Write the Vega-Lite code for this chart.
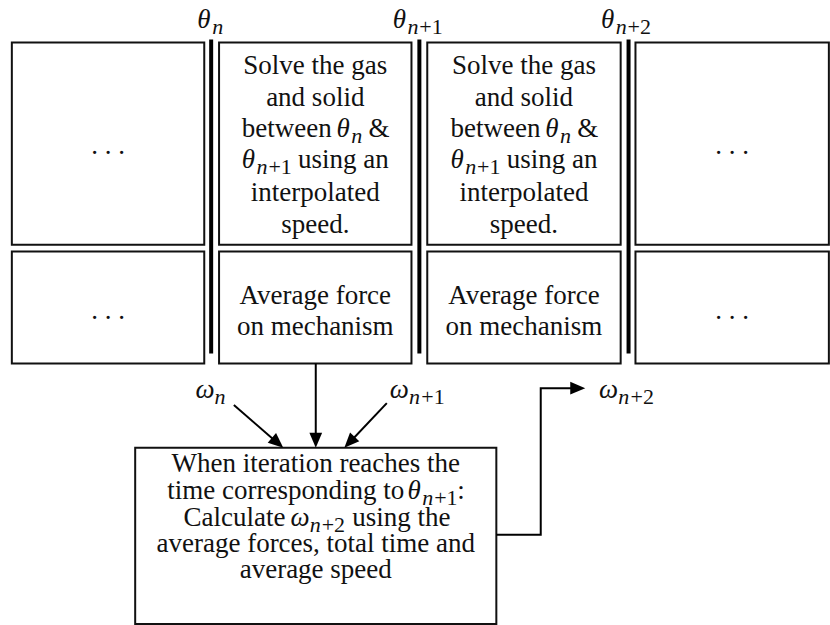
{
  "$schema": "https://vega.github.io/schema/vega-lite/v6.json",
  "width": 830,
  "height": 625,
  "autosize": {"type": "fit", "contains": "padding"},
  "padding": 0,
  "background": "white",
  "config": {"view": {"stroke": null}, "axis": {"disable": true}},
  "datasets": {
    "boxes": [
      {"x": 12, "x2": 207, "y": 43, "y2": 247},
      {"x": 222, "x2": 417, "y": 43, "y2": 247},
      {"x": 433, "x2": 629, "y": 43, "y2": 247},
      {"x": 644, "x2": 840, "y": 43, "y2": 247},
      {"x": 12, "x2": 207, "y": 254, "y2": 367},
      {"x": 222, "x2": 417, "y": 254, "y2": 367},
      {"x": 433, "x2": 629, "y": 254, "y2": 367},
      {"x": 644, "x2": 840, "y": 254, "y2": 367},
      {"x": 137, "x2": 503, "y": 452, "y2": 630}
    ],
    "seps": [
      {"x": 214, "y": 40, "y2": 357},
      {"x": 425, "y": 40, "y2": 357},
      {"x": 637, "y": 40, "y2": 357}
    ],
    "paths": [
      {"id": "a", "o": 1, "x": 320, "y": 367},
      {"id": "a", "o": 2, "x": 320, "y": 445},
      {"id": "b", "o": 1, "x": 237, "y": 409},
      {"id": "b", "o": 2, "x": 281, "y": 447},
      {"id": "c", "o": 1, "x": 392, "y": 407},
      {"id": "c", "o": 2, "x": 354, "y": 447},
      {"id": "d", "o": 1, "x": 503, "y": 540},
      {"id": "d", "o": 2, "x": 548, "y": 540},
      {"id": "d", "o": 3, "x": 548, "y": 392},
      {"id": "d", "o": 4, "x": 586, "y": 392}
    ],
    "heads": [
      {"x": 320, "y": 444.5, "a": 180},
      {"x": 281.3, "y": 447.1, "a": 130.7},
      {"x": 354.2, "y": 446.6, "a": 223.7},
      {"x": 585.5, "y": 392, "a": 90}
    ],
    "texts": [
      {"x": 319.5, "y": 75, "t": "Solve the gas"},
      {"x": 319.5, "y": 107, "t": "and solid"},
      {"x": 319.5, "y": 203, "t": "interpolated"},
      {"x": 319.5, "y": 235, "t": "speed."},
      {"x": 531, "y": 75, "t": "Solve the gas"},
      {"x": 531, "y": 107, "t": "and solid"},
      {"x": 531, "y": 203, "t": "interpolated"},
      {"x": 531, "y": 235, "t": "speed."},
      {"x": 319.5, "y": 307, "t": "Average force"},
      {"x": 319.5, "y": 338, "t": "on mechanism"},
      {"x": 531, "y": 307, "t": "Average force"},
      {"x": 531, "y": 338, "t": "on mechanism"},
      {"x": 109.5, "y": 155, "t": ". . ."},
      {"x": 742, "y": 155, "t": ". . ."},
      {"x": 109.5, "y": 322, "t": ". . ."},
      {"x": 742, "y": 322, "t": ". . ."},
      {"x": 320, "y": 477, "t": "When iteration reaches the"},
      {"x": 320, "y": 557, "t": "average forces, total time and"},
      {"x": 320, "y": 584, "t": "average speed"}
    ],
    "pieces": [
      {"x": 245, "y": 138, "t": "between", "s": "r"},
      {"x": 341, "y": 138, "t": "θ", "s": "i"},
      {"x": 356, "y": 144, "t": "n", "s": "si"},
      {"x": 373.5, "y": 138, "t": "&", "s": "r"},
      {"x": 456.5, "y": 138, "t": "between", "s": "r"},
      {"x": 552.5, "y": 138, "t": "θ", "s": "i"},
      {"x": 567.5, "y": 144, "t": "n", "s": "si"},
      {"x": 585, "y": 138, "t": "&", "s": "r"},
      {"x": 245, "y": 170, "t": "θ", "s": "i"},
      {"x": 260, "y": 176, "t": "n", "s": "si"},
      {"x": 272, "y": 176, "t": "+1", "s": "su"},
      {"x": 302, "y": 170, "t": "using an", "s": "r"},
      {"x": 456.5, "y": 170, "t": "θ", "s": "i"},
      {"x": 471.5, "y": 176, "t": "n", "s": "si"},
      {"x": 483.5, "y": 176, "t": "+1", "s": "su"},
      {"x": 513.5, "y": 170, "t": "using an", "s": "r"},
      {"x": 169.5, "y": 504, "t": "time corresponding to", "s": "r"},
      {"x": 413, "y": 504, "t": "θ", "s": "i"},
      {"x": 428, "y": 510, "t": "n", "s": "si"},
      {"x": 440, "y": 510, "t": "+1", "s": "su"},
      {"x": 463.5, "y": 504, "t": ":", "s": "r"},
      {"x": 186, "y": 531, "t": "Calculate", "s": "r"},
      {"x": 294.5, "y": 531, "t": "ω", "s": "i"},
      {"x": 314, "y": 537, "t": "n", "s": "si"},
      {"x": 326, "y": 537, "t": "+2", "s": "su"},
      {"x": 357, "y": 531, "t": "using the", "s": "r"},
      {"x": 200, "y": 28, "t": "θ", "s": "i"},
      {"x": 215, "y": 34, "t": "n", "s": "si"},
      {"x": 398, "y": 28, "t": "θ", "s": "i"},
      {"x": 413, "y": 34, "t": "n", "s": "si"},
      {"x": 425, "y": 34, "t": "+1", "s": "su"},
      {"x": 609, "y": 28, "t": "θ", "s": "i"},
      {"x": 624, "y": 34, "t": "n", "s": "si"},
      {"x": 636, "y": 34, "t": "+2", "s": "su"},
      {"x": 198, "y": 402, "t": "ω", "s": "i"},
      {"x": 217.5, "y": 408, "t": "n", "s": "si"},
      {"x": 395, "y": 402, "t": "ω", "s": "i"},
      {"x": 414.5, "y": 408, "t": "n", "s": "si"},
      {"x": 427, "y": 408, "t": "+1", "s": "su"},
      {"x": 607, "y": 402, "t": "ω", "s": "i"},
      {"x": 626.5, "y": 408, "t": "n", "s": "si"},
      {"x": 639, "y": 408, "t": "+2", "s": "su"}
    ]
  },
  "layer": [
    {
      "data": {"name": "boxes"},
      "mark": {"type": "rect", "fill": "white", "stroke": "#111111", "strokeWidth": 2},
      "encoding": {
        "x": {"field": "x", "type": "quantitative", "scale": {"domain": [0, 830], "nice": false, "zero": false}},
        "x2": {"field": "x2"},
        "y": {"field": "y", "type": "quantitative", "scale": {"domain": [0, 625], "reverse": true, "nice": false, "zero": false}},
        "y2": {"field": "y2"}
      }
    },
    {
      "data": {"name": "seps"},
      "mark": {"type": "rule", "color": "#000000", "strokeWidth": 4},
      "encoding": {
        "x": {"field": "x", "type": "quantitative"},
        "y": {"field": "y", "type": "quantitative"},
        "y2": {"field": "y2"}
      }
    },
    {
      "data": {"name": "paths"},
      "mark": {"type": "line", "color": "#000000", "strokeWidth": 2, "strokeJoin": "miter"},
      "encoding": {
        "x": {"field": "x", "type": "quantitative"},
        "y": {"field": "y", "type": "quantitative"},
        "detail": {"field": "id"},
        "order": {"field": "o", "type": "quantitative"}
      }
    },
    {
      "data": {"name": "heads"},
      "mark": {"type": "point", "shape": "M0,-1L0.85,1L-0.85,1Z", "filled": true, "size": 225, "color": "#000000", "opacity": 1, "strokeWidth": 0},
      "encoding": {
        "x": {"field": "x", "type": "quantitative"},
        "y": {"field": "y", "type": "quantitative"},
        "angle": {"field": "a", "type": "quantitative", "scale": null}
      }
    },
    {
      "data": {"name": "texts"},
      "mark": {"type": "text", "align": "center", "baseline": "alphabetic", "font": "Liberation Serif", "fontSize": 27, "color": "#111111"},
      "encoding": {
        "x": {"field": "x", "type": "quantitative"},
        "y": {"field": "y", "type": "quantitative"},
        "text": {"field": "t"}
      }
    },
    {
      "data": {"name": "pieces"},
      "transform": [{"filter": "datum.s == 'r'"}],
      "mark": {"type": "text", "align": "left", "baseline": "alphabetic", "font": "Liberation Serif", "fontSize": 27, "color": "#111111"},
      "encoding": {
        "x": {"field": "x", "type": "quantitative"},
        "y": {"field": "y", "type": "quantitative"},
        "text": {"field": "t"}
      }
    },
    {
      "data": {"name": "pieces"},
      "transform": [{"filter": "datum.s == 'i'"}],
      "mark": {"type": "text", "align": "left", "baseline": "alphabetic", "font": "Liberation Serif", "fontStyle": "italic", "fontSize": 27, "color": "#111111"},
      "encoding": {
        "x": {"field": "x", "type": "quantitative"},
        "y": {"field": "y", "type": "quantitative"},
        "text": {"field": "t"}
      }
    },
    {
      "data": {"name": "pieces"},
      "transform": [{"filter": "datum.s == 'si'"}],
      "mark": {"type": "text", "align": "left", "baseline": "alphabetic", "font": "Liberation Serif", "fontStyle": "italic", "fontSize": 22, "color": "#111111"},
      "encoding": {
        "x": {"field": "x", "type": "quantitative"},
        "y": {"field": "y", "type": "quantitative"},
        "text": {"field": "t"}
      }
    },
    {
      "data": {"name": "pieces"},
      "transform": [{"filter": "datum.s == 'su'"}],
      "mark": {"type": "text", "align": "left", "baseline": "alphabetic", "font": "Liberation Serif", "fontSize": 22, "color": "#111111"},
      "encoding": {
        "x": {"field": "x", "type": "quantitative"},
        "y": {"field": "y", "type": "quantitative"},
        "text": {"field": "t"}
      }
    }
  ]
}
